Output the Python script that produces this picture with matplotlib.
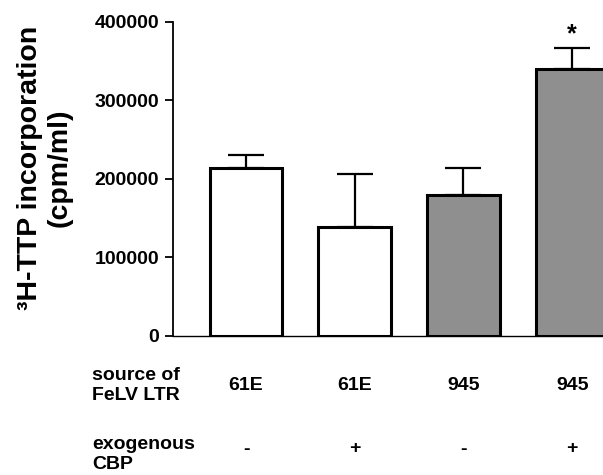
import matplotlib.pyplot as plt
import numpy as np

plt.rcParams['font.family'] = ['Liberation Sans', 'DejaVu Sans']
plt.rcParams['font.weight'] = 'bold'

# data
ltr_source = ["61E", "61E", "945", "945"]
cbp = ["-", "+", "-", "+"]
values = [213800, 138500, 179200, 340000]
err_upper = [16500, 67500, 34500, 27300]
colors = ["white", "white", "#8f8f8f", "#8f8f8f"]
yticks = [0, 100000, 200000, 300000, 400000]

W, H = 603, 475
fig = plt.figure(figsize=(W / 100, H / 100), dpi=100)
ax = fig.add_axes([173 / W, (H - 335.7) / H, 1 - 173 / W, (335.7 - 22) / H])

x = np.arange(len(values))
ax.bar(x, values, width=0.67, color=colors, edgecolor="black", linewidth=2.2, zorder=3)
ax.errorbar(x, values, yerr=[np.zeros(len(values)), err_upper], fmt="none",
            ecolor="black", elinewidth=1.6, capsize=13, capthick=1.6, zorder=2)

# significance star
ax.text(x[3], values[3] + err_upper[3] + 2000, "*", ha="center", va="bottom",
        fontsize=18, fontweight="bold")

ax.set_xlim(-0.672, 3.284)
ax.set_ylim(0, 400000)
ax.set_yticks(yticks)
ax.set_yticklabels([str(v) for v in yticks], fontsize=14, fontweight="bold")
ax.set_xticks([])
ax.spines["top"].set_visible(False)
ax.spines["right"].set_visible(False)
ax.spines["left"].set_linewidth(1.3)
ax.spines["bottom"].set_linewidth(1.0)
ax.tick_params(axis="y", length=6, width=1.3, pad=4)

fig.text(45 / W, 1 - 168 / H, "³H-TTP incorporation\n(cpm/ml)", rotation=90,
         ha="center", va="center", multialignment="center",
         fontsize=20.5, fontweight="bold", linespacing=1.15)

# rows under the axis
trans = ax.get_xaxis_transform()
row1_y = 1 - (385 - 22) / (335.7 - 22)
row2_y = 1 - (449 - 22) / (335.7 - 22)
for xi, s, c in zip(x, ltr_source, cbp):
    ax.text(xi, row1_y, s, transform=trans, ha="center", va="center",
            fontsize=14, fontweight="bold", clip_on=False)
    ax.text(xi, row2_y, c, transform=trans, ha="center", va="center",
            fontsize=14, fontweight="bold", clip_on=False)

fig.text(92 / W, 1 - 385.5 / H, "source of\nFeLV LTR", ha="left", va="center",
         fontsize=14, fontweight="bold", linespacing=1.3)
fig.text(92 / W, 1 - 454.5 / H, "exogenous\nCBP", ha="left", va="center",
         fontsize=14, fontweight="bold", linespacing=1.3)

fig.savefig("out.png", dpi=100)
